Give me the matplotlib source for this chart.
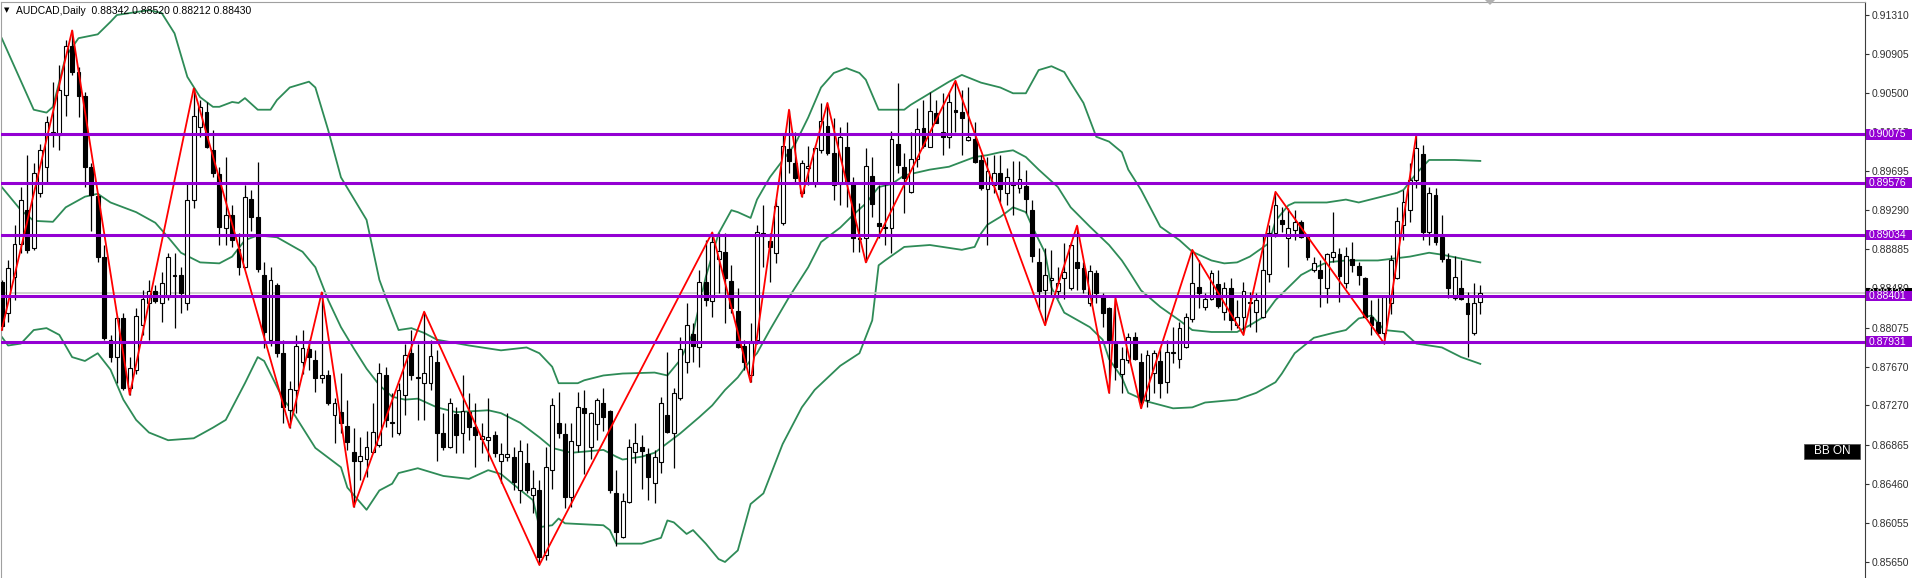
import matplotlib
matplotlib.use("Agg")
import matplotlib.pyplot as plt
import matplotlib.transforms as mtransforms
from matplotlib.patches import Rectangle, Polygon

symbol = "AUDCAD,Daily"
last_bar = ["0.88342", "0.88520", "0.88212", "0.88430"]
last_price = 0.88430

# daily OHLC, oldest first
opens = [
    .8855, .8823, .8860, .8894, .8929, .8890, .8947, .8974, .9010, .9007,
    .9048, .9099, .9072, .9047, .8974, .8944, .8881, .8795, .8777, .8817,
    .8745, .8764, .8810, .8833, .8845, .8833, .8839, .8861, .8862, .8833,
    .8940, .9015, .9031, .8991, .8966, .8911, .8924, .8889, .8870, .8941,
    .8922, .8862, .8795, .8852, .8781, .8722, .8743, .8772, .8785, .8774,
    .8755, .8758, .8717, .8720, .8706, .8679, .8669, .8672, .8679, .8686,
    .8758, .8710, .8698, .8738, .8781, .8756, .8750, .8750, .8772, .8698,
    .8684, .8718, .8698, .8720, .8705, .8692, .8691, .8696, .8670, .8674,
    .8674, .8639, .8667, .8634, .8639, .8572, .8660, .8709, .8697, .8632,
    .8686, .8724, .8684, .8708, .8729, .8721, .8636, .8591, .8627, .8679,
    .8684, .8677, .8647, .8668, .8717, .8698, .8735, .8772, .8801, .8787,
    .8855, .8835, .8879, .8886, .8856, .8825, .8788, .8758, .8795, .8905,
    .8897, .8885, .8916, .8992, .8978, .8947, .8973, .8957, .8991, .9016,
    .8988, .8956, .8994, .8956, .8900, .8900, .8964, .8916, .8912, .8911,
    .8998, .8974, .8948, .8982, .9014, .8994, .9030, .9010, .9005, .9033,
    .9031, .9002, .9003, .8981, .8951, .8955, .8967, .8947, .8958, .8952,
    .8954, .8929, .8875, .8846, .8857, .8845, .8859, .8848, .8875, .8869,
    .8833, .8864, .8841, .8828, .8791, .8760, .8774, .8798, .8772, .8733,
    .8761, .8773, .8751, .8781, .8775, .8787, .8816, .8850, .8829, .8837,
    .8853, .8824, .8848, .8810, .8818, .8833, .8824, .8818, .8863, .8905,
    .8919, .8900, .8909, .8917, .8902, .8867, .8867, .8849, .8881, .8884,
    .8854, .8879, .8871, .8859, .8818, .8813, .8802, .8833, .8859, .8914,
    .8929, .8960, .8987, .8906, .8945, .8901, .8879, .8838, .8848, .8833,
    .8802, .88342,
]
highs = [
    .8857, .8877, .8914, .8953, .8986, .8978, .8998, .9027, .9062, .9079,
    .9105, .9115, .9077, .9051, .8978, .8947, .8893, .8800, .8820, .8823,
    .8777, .8828, .8846, .8857, .8852, .8865, .8885, .8885, .8870, .8957,
    .9055, .9043, .9041, .9012, .8974, .8984, .8934, .8905, .8955, .8950,
    .8979, .8875, .8870, .8854, .8795, .8752, .8800, .8805, .8795, .8784,
    .8844, .8764, .8735, .8761, .8733, .8704, .8694, .8701, .8730, .8771,
    .8767, .8740, .8750, .8791, .8805, .8791, .8824, .8795, .8784, .8719,
    .8735, .8725, .8758, .8740, .8729, .8709, .8735, .8701, .8688, .8719,
    .8684, .8691, .8688, .8660, .8650, .8684, .8735, .8741, .8709, .8709,
    .8741, .8743, .8720, .8735, .8745, .8722, .8660, .8636, .8692, .8709,
    .8696, .8683, .8681, .8736, .8782, .8745, .8798, .8833, .8812, .8867,
    .8898, .8906, .8905, .8905, .8872, .8848, .8795, .8812, .8914, .8934,
    .8905, .8941, .9007, .9033, .9010, .8981, .8995, .8996, .9040, .9040,
    .9024, .9015, .9020, .8963, .8936, .8993, .8984, .8955, .8957, .9011,
    .9061, .8988, .9010, .9035, .9043, .9051, .9043, .9050, .9051, .9063,
    .9053, .9056, .9020, .8986, .8984, .8986, .8986, .8973, .8980, .8980,
    .8971, .8940, .8890, .8890, .8888, .8870, .8895, .8896, .8913, .8875,
    .8872, .8867, .8843, .8829, .8838, .8787, .8802, .8803, .8781, .8784,
    .8784, .8787, .8795, .8808, .8813, .8823, .8888, .8877, .8843, .8867,
    .8867, .8855, .8859, .8836, .8855, .8844, .8843, .8903, .8914, .8948,
    .8932, .8931, .8929, .8919, .8903, .8881, .8877, .8885, .8927, .8890,
    .8891, .8896, .8875, .8860, .8836, .8838, .8841, .8883, .8932, .8950,
    .8978, .9007, .8996, .8953, .8952, .8924, .8885, .8882, .8877, .8844,
    .8854, .88520,
]
lows = [
    .8805, .8813, .8836, .8885, .8885, .8888, .8943, .8957, .8994, .8991,
    .9027, .9069, .9025, .8953, .8908, .8875, .8795, .8772, .8750, .8743,
    .8738, .8760, .8800, .8795, .8833, .8813, .8836, .8807, .8823, .8826,
    .8931, .9005, .8993, .8963, .8893, .8893, .8891, .8862, .8869, .8908,
    .8865, .8786, .8789, .8777, .8709, .8704, .8719, .8760, .8764, .8741,
    .8750, .8727, .8688, .8698, .8681, .8622, .8650, .8653, .8678, .8684,
    .8705, .8694, .8696, .8717, .8753, .8712, .8712, .8743, .8670, .8681,
    .8683, .8678, .8678, .8691, .8663, .8678, .8670, .8674, .8647, .8670,
    .8639, .8626, .8636, .8616, .8562, .8567, .8641, .8693, .8621, .8622,
    .8679, .8656, .8672, .8691, .8701, .8636, .8582, .8590, .8626, .8667,
    .8641, .8629, .8626, .8657, .8698, .8662, .8733, .8761, .8772, .8767,
    .8830, .8818, .8843, .8812, .8823, .8786, .8764, .8751, .8791, .8870,
    .8855, .8874, .8914, .8968, .8958, .8943, .8955, .8953, .8988, .8986,
    .8940, .8934, .8932, .8886, .8886, .8875, .8922, .8900, .8893, .8885,
    .8968, .8926, .8947, .8974, .8993, .8994, .9019, .8986, .8993, .9010,
    .8986, .9001, .8978, .8950, .8893, .8947, .8937, .8934, .8924, .8947,
    .8926, .8875, .8826, .8810, .8839, .8838, .8837, .8846, .8846, .8843,
    .8830, .8833, .8808, .8740, .8753, .8740, .8771, .8774, .8724, .8725,
    .8740, .8735, .8740, .8771, .8766, .8786, .8813, .8828, .8826, .8836,
    .8828, .8815, .8805, .8807, .8800, .8808, .8803, .8817, .8855, .8901,
    .8906, .8870, .8898, .8900, .8877, .8865, .8829, .8833, .8875, .8834,
    .8848, .8865, .8852, .8817, .8800, .8800, .8791, .8822, .8858, .8898,
    .8917, .8952, .8898, .8893, .8893, .8875, .8838, .8836, .8836, .8777,
    .8800, .88212,
]
closes = [
    .8809, .8869, .8894, .8940, .8888, .8967, .8991, .9020, .9008, .9053,
    .9099, .9072, .9047, .8974, .8945, .8881, .8797, .8777, .8817, .8745,
    .8766, .8820, .8837, .8845, .8835, .8854, .8881, .8862, .8843, .8940,
    .9027, .9036, .8994, .8967, .8912, .8924, .8898, .8870, .8943, .8922,
    .8868, .8803, .8857, .8781, .8725, .8744, .8788, .8786, .8777, .8755,
    .8759, .8729, .8729, .8709, .8689, .8669, .8675, .8684, .8699, .8761,
    .8712, .8709, .8743, .8779, .8758, .8755, .8761, .8778, .8698, .8684,
    .8730, .8696, .8721, .8705, .8696, .8695, .8694, .8678, .8677, .8677,
    .8648, .8680, .8639, .8642, .8570, .8663, .8727, .8698, .8632, .8690,
    .8725, .8719, .8719, .8733, .8715, .8640, .8596, .8628, .8684, .8688,
    .8680, .8653, .8674, .8729, .8700, .8740, .8785, .8810, .8789, .8855,
    .8836, .8896, .8887, .8859, .8828, .8787, .8772, .8794, .8906, .8902,
    .8891, .8933, .8995, .8980, .8962, .8978, .8975, .8993, .9021, .8988,
    .8955, .9005, .8957, .8900, .8899, .8975, .8935, .8913, .8911, .9003,
    .8976, .8962, .8982, .9013, .8995, .9032, .9019, .9005, .9041, .9031,
    .9024, .9005, .8979, .8952, .8970, .8967, .8951, .8963, .8955, .8961,
    .8941, .8882, .8845, .8862, .8859, .8854, .8865, .8893, .8869, .8847,
    .8866, .8843, .8823, .8795, .8767, .8775, .8798, .8775, .8731, .8779,
    .8781, .8750, .8782, .8782, .8807, .8818, .8854, .8843, .8837, .8864,
    .8830, .8849, .8815, .8818, .8845, .8834, .8836, .8867, .8905, .8934,
    .8915, .8911, .8917, .8901, .8881, .8874, .8859, .8884, .8886, .8861,
    .8882, .8872, .8862, .8818, .8810, .8802, .8839, .8877, .8918, .8937,
    .8960, .8993, .8906, .8947, .8896, .8879, .8848, .8860, .8837, .8822,
    .8833, .88430,
]

# Bollinger bands (20, 2) at the listed bars
upper_idx = [0, 5, 7, 8, 10, 12, 15, 17, 18, 21, 23, 25, 27, 29, 31, 33, 34, 36, 37, 38,
             40, 42, 43, 45, 48, 49, 51, 53, 57, 59, 60, 62, 64, 66, 68, 73, 78, 82, 84, 86,
             87, 90, 91, 94, 97, 102, 104, 106, 108, 110, 112, 114, 115, 117, 118, 120, 124, 126, 128, 130,
             132, 134, 135, 137, 138, 141, 142, 145, 148, 150, 153, 156, 158, 160, 162, 164, 166, 167, 169, 171,
             173, 175, 176, 178, 181, 184, 186, 189, 191, 193, 195, 198, 199, 201, 202, 207, 210, 212, 215, 218,
             219, 221, 223, 227, 231]
upper_band = [.9107, .9033, .9030, .9036, .9088, .9107, .9111, .9124, .9131, .9134,
              .9136, .9133, .9112, .9067, .9046, .9036, .9036, .9041, .9040, .9045,
              .9033, .9033, .9043, .9056, .9062, .9056, .9012, .8963, .8919, .8857,
              .8839, .8805, .8807, .8802, .8795, .8789, .8784, .8787, .8781, .8767,
              .8750, .8750, .8753, .8758, .8760, .8761, .8758, .8774, .8802, .8860,
              .8905, .8929, .8927, .8921, .8940, .8963, .8998, .9025, .9056, .9071,
              .9076, .9071, .9064, .9033, .9033, .9033, .9038, .9050, .9062, .9069,
              .9061, .9056, .9050, .9050, .9074, .9078, .9072, .9061, .9040, .9005,
              .9000, .8989, .8971, .8950, .8912, .8898, .8886, .8877, .8874, .8875,
              .8881, .8895, .8918, .8934, .8937, .8937, .8940, .8937, .8942, .8947,
              .8950, .8967, .8981, .8981, .8980]

middle_idx = [0, 3, 5, 8, 10, 13, 15, 17, 21, 24, 26, 28, 31, 34, 36, 38, 40, 43, 47, 49,
              51, 53, 55, 57, 59, 61, 63, 65, 68, 71, 76, 78, 81, 84, 86, 89, 94, 96, 97, 100,
              102, 104, 106, 109, 111, 113, 115, 117, 118, 120, 123, 126, 128, 131, 133, 135, 137, 139, 141, 145,
              148, 150, 152, 154, 156, 158, 160, 162, 165, 167, 170, 173, 175, 176, 178, 181, 184, 186, 189, 193,
              195, 197, 199, 201, 203, 205, 207, 210, 215, 220, 223, 225, 228, 231]
middle_band = [.8953, .8929, .8918, .8917, .8932, .8943, .8946, .8937, .8927, .8916,
               .8901, .8885, .8875, .8874, .8881, .8898, .8903, .8901, .8886, .8870,
               .8836, .8808, .8786, .8765, .8748, .8736, .8733, .8734, .8725, .8720,
               .8722, .8719, .8709, .8694, .8683, .8678, .8681, .8674, .8671, .8674,
               .8678, .8688, .8698, .8715, .8727, .8743, .8756, .8774, .8781, .8805,
               .8839, .8870, .8896, .8911, .8924, .8936, .8953, .8956, .8965, .8971,
               .8974, .8979, .8984, .8986, .8989, .8991, .8984, .8971, .8953, .8932,
               .8912, .8893, .8877, .8867, .8846, .8829, .8815, .8805, .8803, .8803,
               .8810, .8818, .8836, .8849, .8862, .8869, .8875, .8877, .8877, .8881,
               .8885, .8883, .8879, .8875]

lower_idx = [0, 1, 3, 5, 7, 9, 11, 13, 15, 17, 19, 21, 23, 26, 30, 33, 35, 38, 40, 41,
             44, 45, 49, 51, 53, 54, 57, 59, 61, 62, 65, 69, 73, 76, 78, 80, 83, 84, 86, 87,
             88, 94, 95, 96, 100, 103, 104, 105, 107, 108, 110, 112, 113, 115, 117, 119, 122, 125, 127, 131,
             134, 136, 137, 138, 141, 145, 148, 150, 152, 153, 154, 156, 158, 160, 161, 163, 164, 166, 170, 172,
             173, 175, 176, 179, 183, 186, 188, 193, 196, 199, 200, 202, 205, 208, 210, 212, 214, 216, 219, 221,
             223, 225, 228, 231]
lower_band = [.8798, .8789, .8791, .8805, .8807, .8800, .8777, .8773, .8781, .8764,
              .8733, .8712, .8699, .8691, .8693, .8704, .8712, .8750, .8777, .8773,
              .8733, .8725, .8683, .8673, .8663, .8642, .8619, .8639, .8646, .8657,
              .8662, .8654, .8651, .8660, .8656, .8645, .8629, .8601, .8603, .8610,
              .8605, .8603, .8598, .8584, .8584, .8590, .8608, .8606, .8594, .8598,
              .8584, .8568, .8565, .8577, .8625, .8636, .8687, .8725, .8743, .8768,
              .8781, .8815, .8872, .8877, .8891, .8893, .8890, .8888, .8891, .8905,
              .8914, .8922, .8932, .8927, .8912, .8885, .8849, .8823, .8808, .8795,
              .8775, .8756, .8740, .8731, .8724, .8725, .8730, .8733, .8740, .8751,
              .8760, .8781, .8797, .8802, .8805, .8817, .8820, .8805, .8803, .8791,
              .8789, .8787, .8777, .8770]

# zigzag swing points: bar index and whether it marks the high or the low
zz_bars = [0, 11, 20, 30, 45, 50, 55, 66, 84, 111, 117, 123, 125, 129, 135, 149, 163,
           168, 173, 174, 178, 186, 194, 199, 216, 221]
zz_kind = ["L", "H", "L", "H", "L", "H", "L", "H", "L", "H", "L", "H", "L", "H", "L", "H", "L",
           "H", "L", "H", "L", "H", "L", "H", "L", "H"]

levels = [0.90075, 0.89576, 0.89034, 0.88401, 0.87931]
price_ticks = [0.91310, 0.90905, 0.90500, 0.90095, 0.89695, 0.89290, 0.88885, 0.88480,
               0.88075, 0.87670, 0.87270, 0.86865, 0.86460, 0.86055, 0.85650]

W, H = 1915, 578
PX = 9664.0  # pixels per price unit on the price scale
plt.rcParams["font.family"] = ["Liberation Sans", "DejaVu Sans"]
fig = plt.figure(figsize=(W / 100, H / 100), dpi=100)
ax = fig.add_axes([0.5 / W, 0, 1864.5 / W, 576 / H])
ax.set_xlim(-0.19, 291.1)
ax.set_ylim(0.91310 - 563 / PX, 0.91310 + 13 / PX)

n = len(closes)
x = list(range(n))

# bands
green = "#2E8B57"
ax.plot(upper_idx, upper_band, color=green, lw=1.3, zorder=1)
ax.plot(middle_idx, middle_band, color=green, lw=1.3, zorder=1)
ax.plot(lower_idx, lower_band, color=green, lw=1.3, zorder=1)

# candles
ax.vlines(x, lows, highs, color="black", lw=0.9, zorder=2)
heights = [c - o for o, c in zip(opens, closes)]
fills = ["white" if c >= o else "black" for o, c in zip(opens, closes)]
ax.bar(x, heights, bottom=opens, width=0.6, color=fills, edgecolor="black",
       linewidth=0.8, zorder=3)

# zigzag
zz_y = [highs[b] if k == "H" else lows[b] for b, k in zip(zz_bars, zz_kind)]
ax.plot(zz_bars, zz_y, color="red", lw=1.3, zorder=4)

# current price line and horizontal levels
ax.axhline(last_price, color="#c8c8c8", lw=1.2, zorder=1)
for lv in levels:
    ax.axhline(lv, color="#9400D3", lw=2.2, zorder=5)

# axes look
ax.spines["bottom"].set_visible(False)
ax.spines["top"].set_color("#a0a0a0")
ax.spines["left"].set_color("#a0a0a0")
ax.spines["right"].set_color("#3c3c3c")
ax.set_xticks([])
ax.yaxis.tick_right()
ax.set_yticks(price_ticks)
ax.set_yticklabels([f"{t:.5f}" for t in price_ticks])
ax.tick_params(axis="y", direction="out", length=3, width=0.8, pad=2,
               labelsize=7.5, colors="#303030")

# price tags on the scale, each one stacked above the previous
trans = mtransforms.blended_transform_factory(ax.transAxes, ax.transData)
tag_w = 46 / 1864.5
tag_h = 10.5 / PX
tag_z = [6]


def price_tag(price, face):
    z = tag_z[0]
    ax.add_patch(Rectangle((1.0006, price - tag_h / 2), tag_w, tag_h, transform=trans,
                           facecolor=face, edgecolor="none", clip_on=False, zorder=z))
    ax.text(1.0022, price, f"{price:.5f}", transform=trans, color="white", fontsize=7.5,
            va="center", ha="left", clip_on=False, zorder=z + 0.5)
    tag_z[0] = z + 1


price_tag(last_price, "black")
for lv in levels:
    price_tag(lv, "#9400D3")

# header
fig.text(7 / W, 1 - 10 / H, "\u25bc", fontsize=5, va="center", ha="center",
         family="DejaVu Sans")
fig.text(16 / W, 1 - 10.5 / H, symbol + "  " + " ".join(last_bar), fontsize=7.5,
         va="center", ha="left", color="black")

# chart shift marker
fig.add_artist(Polygon([(1485 / W, 1.0), (1495 / W, 1.0), (1490 / W, 1 - 5 / H)],
                       closed=True, transform=fig.transFigure, facecolor="#b0b0b0",
                       edgecolor="none"))

# BB ON button
fig.add_artist(Rectangle((1804 / W, 1 - 459 / H), 56 / W, 15 / H, transform=fig.transFigure,
                         facecolor="black", edgecolor="#555555", lw=0.6))
fig.text(1832 / W, 1 - 451.5 / H, "BB ON", fontsize=8.5, color="white",
         va="center", ha="center")

fig.savefig("out.png", dpi=100)
